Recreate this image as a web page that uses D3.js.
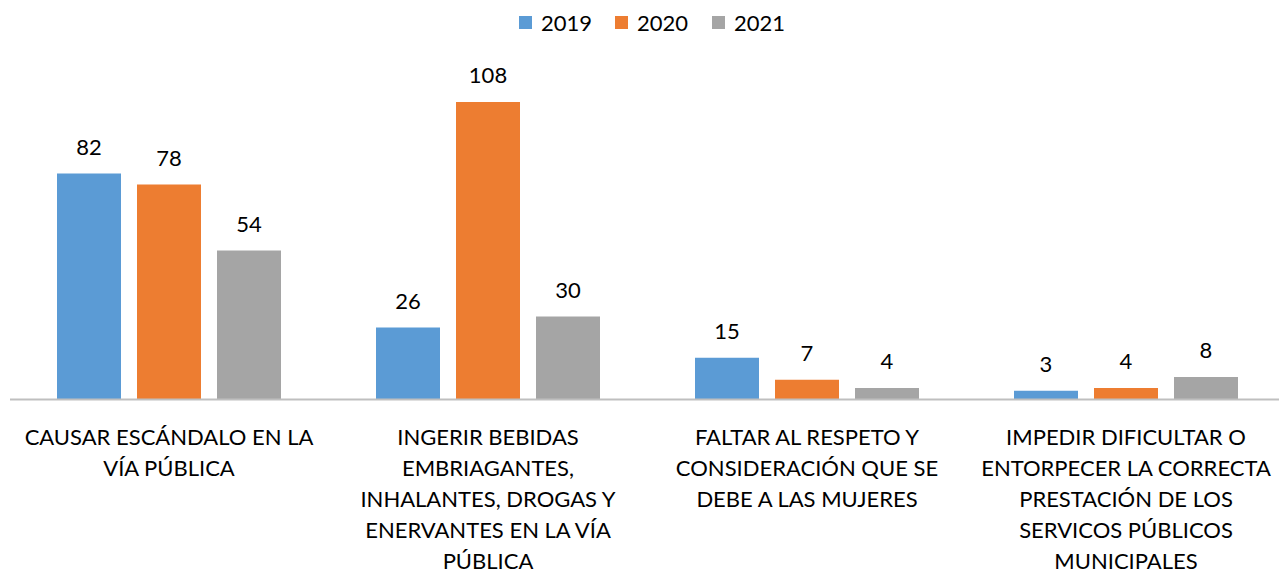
<!DOCTYPE html>
<html>
<head>
<meta charset="utf-8">
<script src="https://cdn.jsdelivr.net/npm/d3@7"></script>
<style>
  html, body { margin: 0; padding: 0; background: #fff; }
  svg { display: block; font-family: Lato, "Noto Sans", sans-serif; }
</style>
</head>
<body>
<svg id="chart" width="1279" height="573"></svg>
<script>
// chart data
const categories = [
  ["CAUSAR ESCÁNDALO EN LA", "VÍA PÚBLICA"],
  ["INGERIR BEBIDAS", "EMBRIAGANTES,", "INHALANTES, DROGAS Y", "ENERVANTES EN LA VÍA", "PÚBLICA"],
  ["FALTAR AL RESPETO Y", "CONSIDERACIÓN QUE SE", "DEBE A LAS MUJERES"],
  ["IMPEDIR DIFICULTAR O", "ENTORPECER LA CORRECTA", "PRESTACIÓN DE LOS", "SERVICOS PÚBLICOS", "MUNICIPALES"]
];
const years = ["2019", "2020", "2021"];
const values2019 = [82, 26, 15, 3];
const values2020 = [78, 108, 7, 4];
const values2021 = [54, 30, 4, 8];
const colors = ["#5b9bd5", "#ed7d31", "#a5a5a5"];

const series = [values2019, values2020, values2021];

const svg = d3.select("#chart");
const baseY = 399;

const x0 = d3.scaleBand()
  .domain(d3.range(categories.length))
  .range([9.5, 9.5 + 319 * categories.length]);

const x1 = d3.scaleBand()
  .domain(years)
  .range([47.5, 47.5 + 224])
  .paddingInner(0.2);

const y = d3.scaleLinear()
  .domain([0, 120])
  .range([baseY, baseY - 330]);

// bars
const groups = svg.selectAll("g.group")
  .data(categories)
  .enter().append("g")
  .attr("class", "group")
  .attr("transform", (d, i) => `translate(${x0(i)},0)`);

groups.each(function(cat, i) {
  const g = d3.select(this);
  years.forEach((yr, k) => {
    const v = series[k][i];
    g.append("rect")
      .attr("x", x1(yr))
      .attr("y", y(v))
      .attr("width", x1.bandwidth())
      .attr("height", y(0) - y(v))
      .attr("fill", colors[k]);
    g.append("text")
      .attr("x", x1(yr) + x1.bandwidth() / 2)
      .attr("y", y(v) - 19)
      .attr("text-anchor", "middle")
      .style("font-size", "22px")
      .style("fill", "#000")
      .text(v);
  });
});

// axis line
const axis = svg.append("g")
  .attr("transform", `translate(0,${baseY})`)
  .call(d3.axisBottom(x0).tickSize(0).tickSizeOuter(0).tickFormat(""));
axis.select(".domain").attr("stroke", "#bfbfbf").attr("stroke-width", 2);

// category labels
groups.each(function(lines) {
  const t = d3.select(this).append("text")
    .attr("text-anchor", "middle")
    .style("font-size", "22px")
    .style("fill", "#000");
  lines.forEach((ln, j) => {
    t.append("tspan")
      .attr("x", x0.bandwidth() / 2)
      .attr("y", 445 + j * 31)
      .text(ln);
  });
});

// legend
const legendX = [519, 615, 712];
const legend = svg.append("g");
years.forEach((yr, k) => {
  legend.append("rect")
    .attr("x", legendX[k])
    .attr("y", 16)
    .attr("width", 13)
    .attr("height", 13)
    .attr("fill", colors[k]);
  legend.append("text")
    .attr("x", legendX[k] + 22)
    .attr("y", 31)
    .style("font-size", "22px")
    .style("fill", "#000")
    .text(yr);
});
</script>
</body>
</html>
